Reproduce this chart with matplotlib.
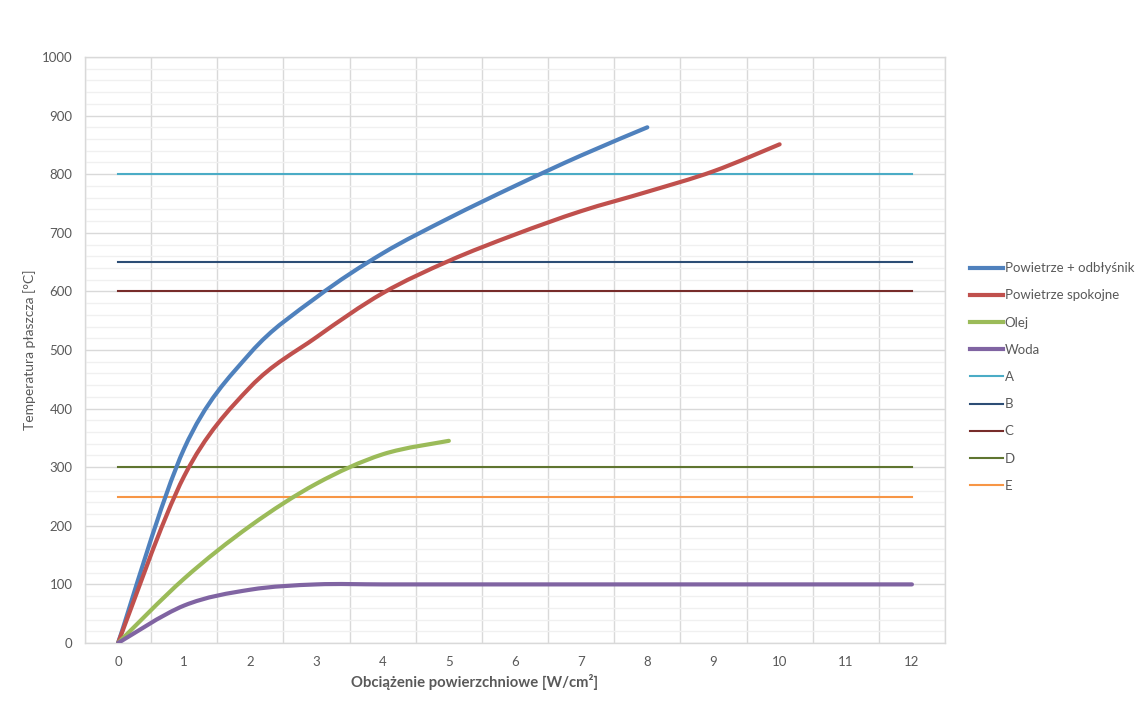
import matplotlib
matplotlib.use("Agg")
from matplotlib import pyplot as plt
from matplotlib.path import Path
from matplotlib.patches import PathPatch
from matplotlib.lines import Line2D
from matplotlib.ticker import MultipleLocator

plt.rcParams['font.family'] = ['Lato', 'DejaVu Sans']

# data
x_odblysnik = [0, 1, 2, 3, 4, 5, 6, 7, 8]
y_odblysnik = [0, 332, 495, 590, 665, 725, 780, 832, 880]

x_spokojne = [0, 1, 2, 3, 4, 5, 6, 7, 8, 9, 10]
y_spokojne = [0, 285, 437, 522, 597, 652, 697, 737, 770, 805, 851]

x_olej = [0, 1, 2, 3, 4, 5]
y_olej = [0, 110, 200, 272, 322, 345]

x_woda = [0, 1, 2, 3, 4, 5, 6, 7, 8, 9, 10, 11, 12]
y_woda = [0, 64, 91, 100, 100, 100, 100, 100, 100, 100, 100, 100, 100]

limit_names = ['A', 'B', 'C', 'D', 'E']
limit_values = [800, 650, 600, 300, 250]
limit_x = [0, 12]

x_ticks = list(range(0, 13))

curve_names = ['Powietrze + odbłyśnik', 'Powietrze spokojne', 'Olej', 'Woda']
curve_colors = ['#4F81BD', '#C0504D', '#9BBB59', '#8064A2']
limit_colors = ['#4BACC6', '#2C4D75', '#772C2A', '#5F7530', '#F79646']
text_color = '#595959'
grid_color = '#D9D9D9'


def smooth_path(xs, ys):
    # Excel-style smoothed line: cubic bezier segments with catmull-rom handles
    pts = list(zip(xs, ys))
    n = len(pts)
    verts = [pts[0]]
    codes = [Path.MOVETO]
    for i in range(n - 1):
        p0 = pts[max(i - 1, 0)]
        p1 = pts[i]
        p2 = pts[i + 1]
        p3 = pts[min(i + 2, n - 1)]
        c1 = (p1[0] + (p2[0] - p0[0]) / 6, p1[1] + (p2[1] - p0[1]) / 6)
        c2 = (p2[0] - (p3[0] - p1[0]) / 6, p2[1] - (p3[1] - p1[1]) / 6)
        verts += [c1, c2, p2]
        codes += [Path.CURVE4] * 3
    return Path(verts, codes)


fig = plt.figure(figsize=(11.48, 7.13), dpi=100)
ax = fig.add_axes([85 / 1148, 1 - 643 / 713, 860 / 1148, 586 / 713])

ax.set_xlim(-0.5, 12.5)
ax.set_ylim(0, 1000)

# grid
ax.yaxis.set_major_locator(MultipleLocator(100))
ax.yaxis.set_minor_locator(MultipleLocator(20))
ax.grid(which='major', axis='y', color=grid_color, lw=1.0, zorder=0)
ax.grid(which='minor', axis='y', color='#F0F0F0', lw=1.0, zorder=0)
for gx in x_ticks + [-1]:
    ax.axvline(gx + 0.5, color=grid_color, lw=1.0, zorder=0)

ax.set_xticks(x_ticks)
ax.set_xticklabels([str(t) for t in x_ticks])
ax.tick_params(which='both', length=0, colors=text_color, labelsize=9.5)
ax.tick_params(axis='y', pad=9)
ax.tick_params(axis='x', pad=9)
for side in ax.spines.values():
    side.set_color(grid_color)
    side.set_linewidth(1.0)

handles = []
curves = [(x_odblysnik, y_odblysnik), (x_spokojne, y_spokojne),
          (x_olej, y_olej), (x_woda, y_woda)]
for (xs, ys), name, col in zip(curves, curve_names, curve_colors):
    patch = PathPatch(smooth_path(xs, ys), fill=False, edgecolor=col,
                      lw=3.0, capstyle='round', zorder=3)
    ax.add_patch(patch)
    handles.append(Line2D([], [], color=col, lw=3.0, label=name))

for name, val, col in zip(limit_names, limit_values, limit_colors):
    line, = ax.plot(limit_x, [val, val], color=col, lw=1.5, zorder=2, label=name)
    handles.append(line)

ax.set_xlabel('Obciążenie powierzchniowe [W/cm²]', fontsize=10.7,
              fontweight='bold', color=text_color, labelpad=5, x=0.4535)
ax.set_ylabel('Temperatura płaszcza [°C]', fontsize=10, color=text_color,
              labelpad=4)

fig.legend(handles=handles, loc='center left',
           bbox_to_anchor=(958 / 1148, 1 - 377 / 713), frameon=False,
           fontsize=9.5, handlelength=2.5, handletextpad=0.15,
           labelspacing=1.15, labelcolor=text_color)

fig.savefig('out.png', dpi=100)
